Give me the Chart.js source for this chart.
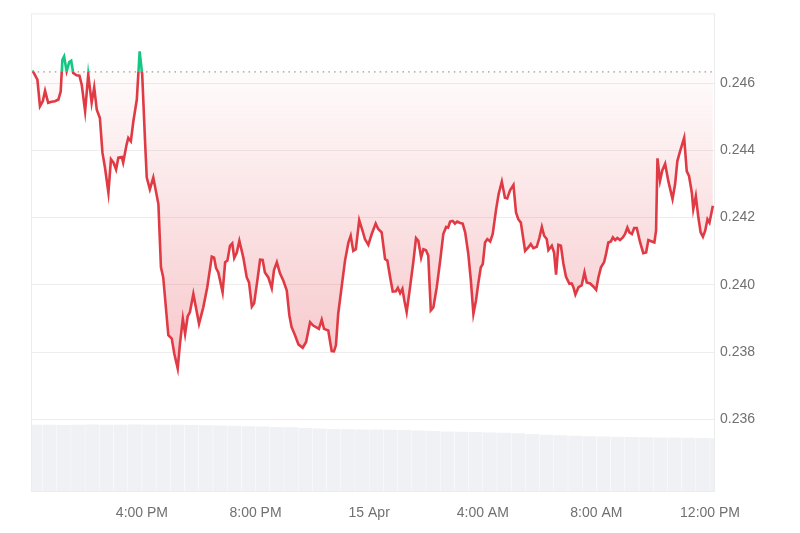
<!DOCTYPE html>
<html>
<head>
<meta charset="utf-8">
<script src="https://cdn.jsdelivr.net/npm/chart.js@4/dist/chart.umd.min.js"></script>
<style>
  html, body { margin: 0; padding: 0; background: #fff; }
  #wrap { width: 800px; height: 533px; }
</style>
</head>
<body>
<div id="wrap"><canvas id="priceChart"></canvas></div>
<script>
// --- dane ---
// czas w godzinach od północy 14 Apr
const times = [12.15,12.32,12.41,12.51,12.59,12.70,12.82,12.94,13.06,13.14,13.20,13.26,13.35,13.44,13.51,13.58,13.70,13.80,13.88,14.00,
  14.11,14.23,14.32,14.41,14.52,14.61,14.70,14.82,14.91,15.00,15.09,15.17,15.29,15.34,15.46,15.52,15.61,15.70,15.82,15.92,
  16.01,16.11,16.17,16.28,16.40,16.58,16.67,16.75,16.93,17.05,17.14,17.26,17.34,17.44,17.52,17.61,17.69,17.81,17.90,18.01,
  18.16,18.30,18.46,18.54,18.61,18.69,18.84,18.93,19.01,19.10,19.18,19.25,19.34,19.43,19.57,19.69,19.77,19.87,19.95,20.07,
  20.16,20.25,20.33,20.45,20.57,20.65,20.75,20.86,20.98,21.10,21.19,21.27,21.39,21.51,21.66,21.78,21.92,22.03,22.23,22.33,
  22.41,22.56,22.68,22.76,22.83,22.91,23.03,23.15,23.27,23.35,23.44,23.53,23.65,23.77,23.85,23.97,24.09,24.23,24.32,24.44,
  24.56,24.64,24.74,24.83,24.94,25.01,25.09,25.17,25.24,25.32,25.44,25.56,25.65,25.73,25.83,25.91,26.00,26.08,26.17,26.26,
  26.38,26.50,26.61,26.71,26.78,26.85,26.94,27.02,27.10,27.20,27.29,27.38,27.49,27.58,27.67,27.76,27.84,27.93,28.00,28.08,
  28.16,28.26,28.35,28.47,28.56,28.67,28.78,28.86,28.96,29.08,29.17,29.25,29.34,29.41,29.49,29.60,29.69,29.78,29.90,29.99,
  30.08,30.16,30.25,30.31,30.43,30.51,30.58,30.66,30.75,30.84,30.93,31.05,31.13,31.19,31.26,31.37,31.48,31.58,31.66,31.78,
  31.89,31.99,32.07,32.16,32.27,32.34,32.42,32.51,32.58,32.66,32.74,32.83,32.93,33.01,33.09,33.16,33.25,33.33,33.42,33.54,
  33.65,33.75,33.83,33.95,34.04,34.10,34.15,34.24,34.32,34.42,34.53,34.68,34.77,34.85,34.95,35.09,35.18,35.26,35.36,35.41,
  35.50,35.59,35.67,35.75,35.83,35.91,35.98,36.10];

const prices = [0.24637,0.24610,0.24531,0.24546,0.24577,0.24541,0.24544,0.24546,0.24551,0.24575,0.24669,0.24679,0.24635,0.24662,0.24666,0.24630,0.24623,0.24622,0.24595,0.24516,
  0.24625,0.24541,0.24587,0.24521,0.24496,0.24393,0.24348,0.24274,0.24373,0.24363,0.24343,0.24378,0.24380,0.24363,0.24417,0.24437,0.24427,0.24487,0.24551,0.24694,
  0.24625,0.24427,0.24319,0.24284,0.24319,0.24240,0.24052,0.24022,0.23850,0.23840,0.23795,0.23751,0.23825,0.23899,0.23854,0.23906,0.23919,0.23973,0.23933,0.23884,
  0.23933,0.23993,0.24084,0.24081,0.24050,0.24037,0.23978,0.24067,0.24072,0.24116,0.24123,0.24080,0.24096,0.24131,0.24081,0.24022,0.24007,0.23935,0.23945,0.24017,
  0.24075,0.24074,0.24037,0.24022,0.23990,0.24044,0.24067,0.24034,0.24012,0.23983,0.23909,0.23874,0.23850,0.23823,0.23813,0.23830,0.23889,0.23879,0.23869,0.23896,
  0.23869,0.23864,0.23803,0.23802,0.23820,0.23914,0.23993,0.24072,0.24126,0.24146,0.24101,0.24106,0.24192,0.24160,0.24136,0.24119,0.24151,0.24182,0.24166,0.24156,
  0.24077,0.24072,0.24022,0.23980,0.23981,0.23991,0.23975,0.23988,0.23953,0.23919,0.23993,0.24072,0.24139,0.24131,0.24081,0.24106,0.24103,0.24087,0.23924,0.23933,
  0.23993,0.24072,0.24151,0.24172,0.24170,0.24188,0.24190,0.24182,0.24188,0.24184,0.24182,0.24156,0.24092,0.24013,0.23914,0.23953,0.24003,0.24052,0.24062,0.24126,
  0.24136,0.24129,0.24151,0.24225,0.24271,0.24307,0.24259,0.24257,0.24281,0.24297,0.24215,0.24195,0.24185,0.24146,0.24101,0.24111,0.24121,0.24109,0.24113,0.24139,
  0.24172,0.24146,0.24136,0.24103,0.24116,0.24096,0.24030,0.24119,0.24116,0.24062,0.24024,0.24003,0.24004,0.23993,0.23971,0.23993,0.23998,0.24037,0.24007,0.24004,
  0.23995,0.23985,0.24022,0.24052,0.24067,0.24092,0.24126,0.24129,0.24141,0.24133,0.24139,0.24133,0.24141,0.24151,0.24170,0.24156,0.24151,0.24169,0.24169,0.24126,
  0.24094,0.24096,0.24133,0.24129,0.24126,0.24161,0.24376,0.24309,0.24340,0.24360,0.24309,0.24255,0.24299,0.24368,0.24398,0.24437,0.24338,0.24324,0.24274,0.24225,
  0.24264,0.24200,0.24156,0.24143,0.24161,0.24195,0.24185,0.24235];

// wolumen (mln), co pół godziny
const volTimes = [12.25,12.75,13.25,13.75,14.25,14.75,15.25,15.75,16.25,16.75,17.25,17.75,18.25,18.75,19.25,19.75,20.25,20.75,21.25,21.75,
  22.25,22.75,23.25,23.75,24.25,24.75,25.25,25.75,26.25,26.75,27.25,27.75,28.25,28.75,29.25,29.75,30.25,30.75,31.25,31.75,
  32.25,32.75,33.25,33.75,34.25,34.75,35.25,35.75,36.25];
const volumes = [139,139,138.5,139,139.5,139,139,139.5,139,139,139,138.5,138,137.5,137,136,135.5,134.5,133.5,132,
  131,130,129.5,129,129,128.5,128,127,126,125,124.5,124,123,122,121,119.5,118,117,116,115,
  114.5,114,113.5,113,112.5,112,111.5,111,110.5];

const basePrice = 0.24633;
const yTicks = [0.236, 0.238, 0.240, 0.242, 0.244, 0.246];
const xTicks = [16, 20, 24, 28, 32, 36];
const xLabels = ['4:00 PM', '8:00 PM', '15 Apr', '4:00 AM', '8:00 AM', '12:00 PM'];

const RED = '#e03a45';
const GREEN = '#16c784';

// --- pomocnicze ---
function baseFraction(chart) {
  const area = chart.chartArea;
  const yb = chart.scales.y.getPixelForValue(basePrice);
  return Math.min(1, Math.max(0, (yb - area.top) / (area.bottom - area.top)));
}

function lineColor(context) {
  const chart = context.chart;
  if (!chart.chartArea) return RED;
  const area = chart.chartArea;
  const f = baseFraction(chart);
  const g = chart.ctx.createLinearGradient(0, area.top, 0, area.bottom);
  g.addColorStop(0, GREEN);
  g.addColorStop(f, GREEN);
  g.addColorStop(f, RED);
  g.addColorStop(1, RED);
  return g;
}

function fillColor(context) {
  const chart = context.chart;
  if (!chart.chartArea) return 'rgba(224,58,69,0.1)';
  const area = chart.chartArea;
  const f = baseFraction(chart);
  const g = chart.ctx.createLinearGradient(0, area.top, 0, area.bottom);
  g.addColorStop(0, 'rgba(22,199,132,0.12)');
  g.addColorStop(f, 'rgba(22,199,132,0.12)');
  g.addColorStop(f, 'rgba(224,58,69,0.02)');
  g.addColorStop(0.72, 'rgba(224,58,69,0.27)');
  g.addColorStop(1, 'rgba(224,58,69,0.3)');
  return g;
}

// ramka wokół obszaru wykresu
const framePlugin = {
  id: 'frame',
  beforeDatasetsDraw(chart) {
    const { ctx, chartArea: a } = chart;
    ctx.save();
    ctx.strokeStyle = '#ececec';
    ctx.lineWidth = 1;
    ctx.strokeRect(a.left - 0.5, a.top - 0.5, a.right - a.left + 1, a.bottom - a.top + 1);
    ctx.restore();
  }
};

Chart.defaults.font.family = '"Liberation Sans", Arial, Helvetica, sans-serif';
Chart.defaults.font.size = 14;
Chart.defaults.color = '#707070';

new Chart(document.getElementById('priceChart'), {
  data: {
    datasets: [
      {
        type: 'line',
        label: 'Price',
        data: times.map((t, i) => ({ x: t, y: prices[i] })),
        borderColor: lineColor,
        backgroundColor: fillColor,
        fill: { value: basePrice },
        borderWidth: 2.6,
        pointRadius: 0,
        tension: 0,
        yAxisID: 'y',
        order: 0
      },
      {
        type: 'line',
        label: 'Base',
        data: [{ x: 12.13, y: basePrice }, { x: 36.14, y: basePrice }],
        borderColor: '#9a9a9a',
        borderWidth: 1.3,
        borderDash: [1.5, 4.2],
        pointRadius: 0,
        fill: false,
        yAxisID: 'y',
        order: 1
      },
      {
        type: 'bar',
        label: 'Volume',
        data: volTimes.map((t, i) => ({ x: t, y: volumes[i] })),
        backgroundColor: '#eff1f5',
        barPercentage: 1,
        categoryPercentage: 0.97,
        yAxisID: 'yVol',
        order: 2
      }
    ]
  },
  options: {
    responsive: true,
    maintainAspectRatio: false,
    animation: false,
    layout: { padding: { left: 32, top: 12, right: 0, bottom: 0 } },
    plugins: {
      legend: { display: false },
      tooltip: { enabled: false }
    },
    scales: {
      x: {
        type: 'linear',
        offset: false,
        min: 12.13,
        max: 36.14,
        grid: { display: false, drawTicks: false, offset: false },
        border: { display: false },
        afterBuildTicks: s => { s.ticks = xTicks.map(v => ({ value: v })); },
        afterFit: s => { s.height = 42; },
        ticks: {
          padding: 14,
          maxRotation: 0,
          autoSkip: false,
          callback: (v) => xLabels[xTicks.indexOf(v)]
        }
      },
      y: {
        position: 'right',
        min: 0.23387,
        max: 0.24804,
        grid: { color: '#ededed', drawTicks: false },
        border: { display: false },
        afterBuildTicks: s => { s.ticks = yTicks.map(v => ({ value: v })); },
        afterFit: s => { s.width = 86; },
        ticks: {
          padding: 6,
          callback: v => v.toFixed(3)
        }
      },
      yVol: {
        display: false,
        min: 0,
        max: 1000
      }
    }
  },
  plugins: [framePlugin]
});
</script>
</body>
</html>
